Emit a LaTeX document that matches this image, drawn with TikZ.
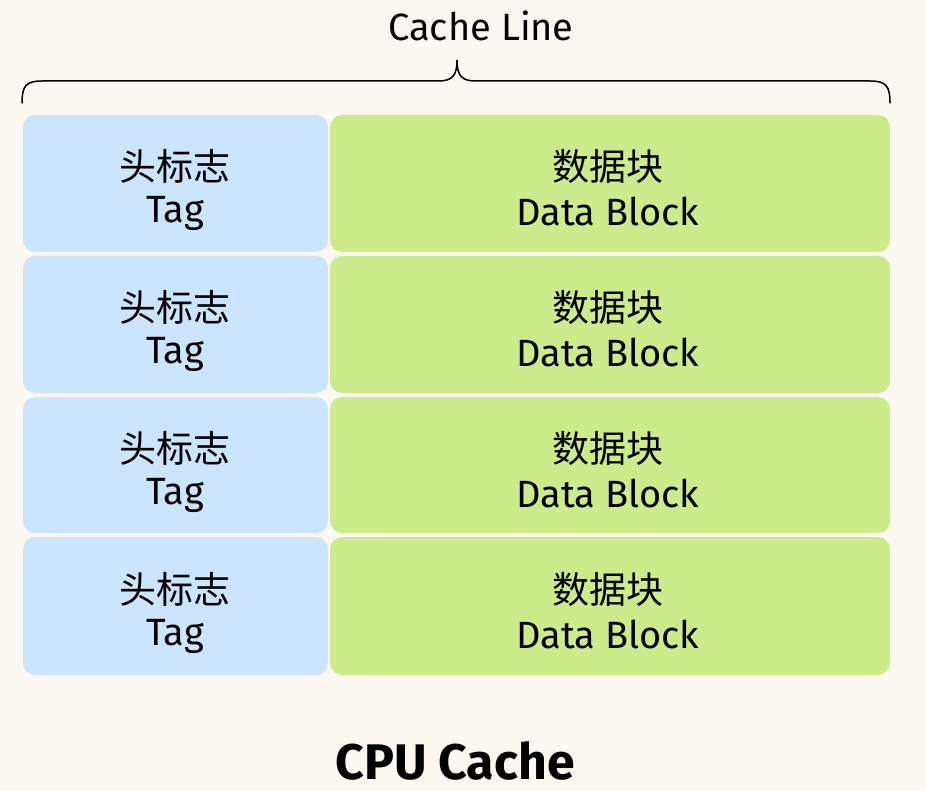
\documentclass[tikz,border=0pt]{standalone}
\usepackage{fontspec}
\setmainfont{Fira Sans}
\newfontfamily\cjk{Noto Sans CJK SC}
\definecolor{bgc}{HTML}{FAF8F1}
\definecolor{tagc}{HTML}{CCE5FF}
\definecolor{datac}{HTML}{CDEB8B}
\begin{document}
\begin{tikzpicture}[x=1pt,y=-1pt,
  lbl/.style={font=\fontsize{38}{44}\selectfont,align=center,text=black,inner sep=0pt},
  cj/.style={font=\cjk\fontsize{37}{44}\selectfont,text=black,inner sep=0pt}]
\fill[bgc] (0,0) rectangle (926,791);
\useasboundingbox (0,0) rectangle (926,791);
\foreach \i/\t/\b in {1/115/252,2/256/393,3/397/533,4/537/675}{
  \fill[tagc,rounded corners=12pt] (23,\t) rectangle (328,\b);
  \fill[datac,rounded corners=12pt] (330,\t) rectangle (890,\b);
  \pgfmathsetmacro{\yc}{(\t+\b)/2}
  \node[cj] (tz\i) at (175,\yc-17) {头标志};
  \node[lbl] (te\i) at (175,\yc+30) {Tag};
  \node[cj] (dz\i) at (608,\yc-17) {数据块};
  \node[lbl] (de\i) at (608,\yc+28) {Data Block};
}
\coordinate (bl) at (22,103);
\coordinate (br) at (890,103);
\coordinate (bt) at (457,60);
\draw[line width=1.5pt,line cap=round] (bl) .. controls (22,86) and (26,81) .. (42,81) -- (438,81)
  .. controls (452,81) and (457,76) .. (bt) .. controls (457,76) and (462,81) .. (476,81) -- (870,81)
  .. controls (886,81) and (890,86) .. (br);
\node[lbl] (cl) at (481,26) {Cache Line};
\node[lbl,font=\bfseries\fontsize{50}{56}\selectfont,anchor=base] (cpu) at (455,779) {CPU Cache};
\end{tikzpicture}
\end{document}
